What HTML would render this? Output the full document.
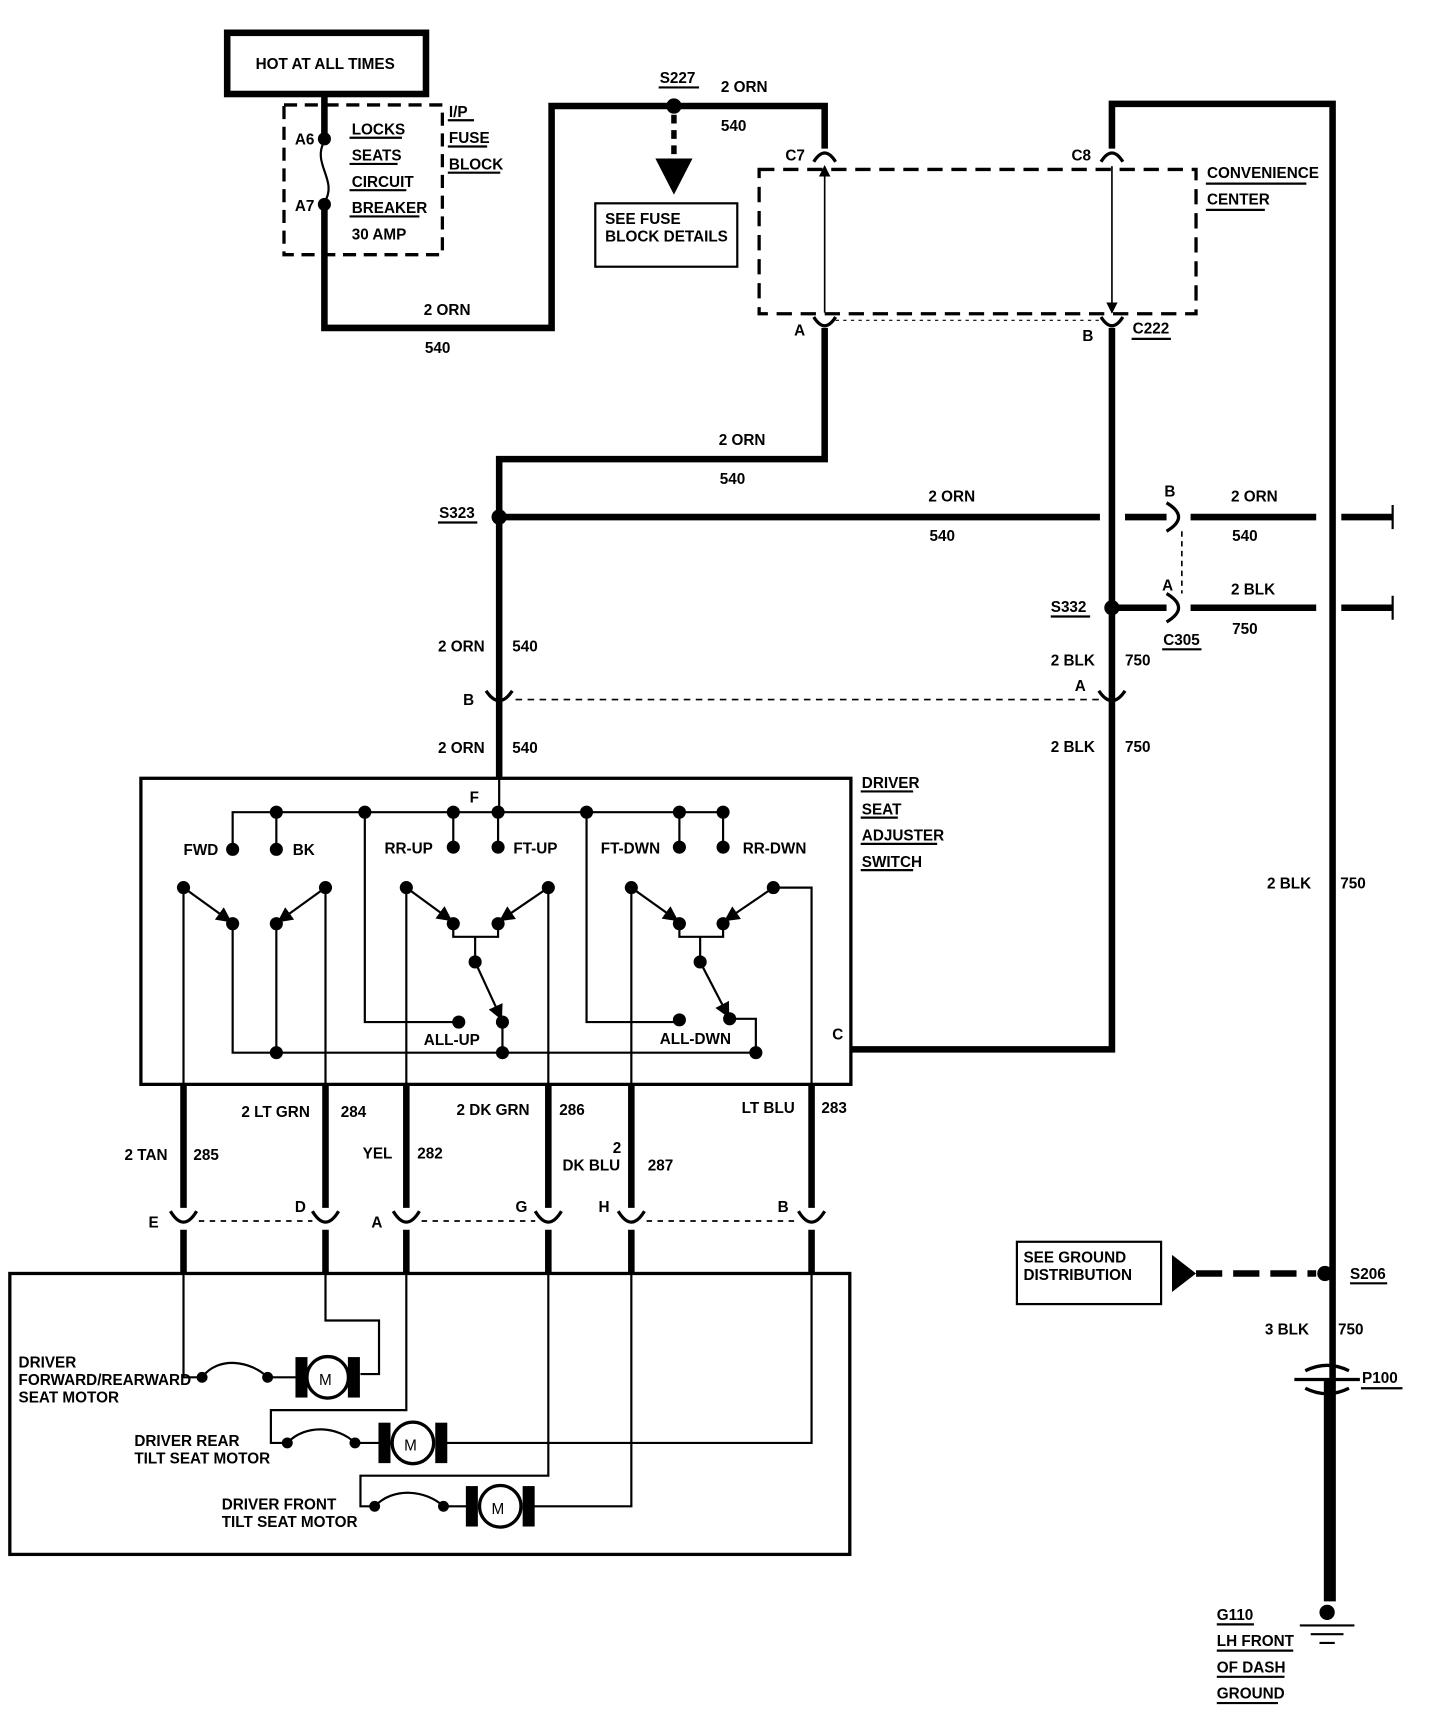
<!DOCTYPE html>
<html><head><meta charset="utf-8"><style>
html,body{margin:0;padding:0;background:#fff;}
svg{display:block;}
text{font-family:"Liberation Sans",sans-serif;font-weight:bold;font-size:14px;fill:#000;}
</style></head><body>
<svg width="1456" height="1714" viewBox="0 0 1333 1568" preserveAspectRatio="none" xmlns="http://www.w3.org/2000/svg">
<defs>
<marker id="ar" viewBox="0 0 10 10" refX="9" refY="5" markerWidth="7" markerHeight="7" orient="auto-start-reverse"><path d="M0,0 L10,5 L0,10 z" fill="#000"/></marker>
</defs>
<g fill="none" stroke="#000">
<rect x="208" y="30" width="182" height="56" stroke-width="6"/>
<rect x="260" y="96" width="145" height="137" stroke-width="3" stroke-dasharray="12,7"/>
<path d="M297,88 V125 M297,189 V300 H505 V97 H755 V136" stroke-width="6"/>
<path d="M297,129 C285,150 310,165 297,185" stroke-width="2"/>
<path d="M617,105 V148" stroke-width="5" stroke-dasharray="8,6"/>
<rect x="545" y="186" width="130" height="58" stroke-width="2"/>
<rect x="695" y="155" width="400" height="132" stroke-width="3" stroke-dasharray="14,8"/>
<path d="M755,300 V420 H457 V712" stroke-width="6"/>
<path d="M1018,136 V95 H1220 V1465" stroke-width="6"/>
<path d="M1018,300 V960 H780" stroke-width="6"/>
<path d="M745,148 Q755,132 765,148 M1008,148 Q1018,132 1028,148 M745,290 Q755,306 765,290 M1008,290 Q1018,306 1028,290" stroke-width="3"/>
<path d="M755,152 V286 M1018,152 V286" stroke-width="1.5" marker-start="url(#ar)" marker-end="url(#ar)"/>
<path d="M765,293 H1008" stroke-width="1" stroke-dasharray="3,4"/>
<path d="M457,473 H1007 M1030,473 H1068 M1090,473 H1205 M1228,473 H1275 M1018,556 H1068 M1090,556 H1205 M1228,556 H1275" stroke-width="6"/>
<path d="M1275,462 V484 M1275,545 V567" stroke-width="2"/>
<path d="M1068,460 Q1090,473 1068,486 M1068,543 Q1090,556 1068,569" stroke-width="3"/>
<path d="M1082,486 V543" stroke-width="1.5" stroke-dasharray="5,4"/>
<path d="M445,632 Q457,650 469,632 M1006,632 Q1018,650 1030,632" stroke-width="3"/>
<path d="M472,640 H1008" stroke-width="1.5" stroke-dasharray="6,5"/>
<rect x="129" y="712" width="650" height="280" stroke-width="3"/>
<g stroke-width="2">
<path d="M213,777 V743 H662 V775 M253,743 V777 M415,743 V775 M456,743 V775 M622,743 V775 M457,712 V743"/>
<path d="M168,812 L211,843" marker-end="url(#ar)"/>
<path d="M298,812 L255,843" marker-end="url(#ar)"/>
<path d="M213,845 V963 H692 M253,845 V963"/>
<path d="M372,812 L413,842" marker-end="url(#ar)"/>
<path d="M502,812 L458,842" marker-end="url(#ar)"/>
<path d="M415,845 V857 H456 V845 M435,857 V880"/>
<path d="M435,880 L459,932" marker-end="url(#ar)"/>
<path d="M334,743 V935 H420 M460,935 V963"/>
<path d="M578,812 L620,842" marker-end="url(#ar)"/>
<path d="M708,812 L664,842" marker-end="url(#ar)"/>
<path d="M622,845 V857 H662 V845 M641,857 V880"/>
<path d="M641,880 L667,930" marker-end="url(#ar)"/>
<path d="M537,743 V935 H622 M668,932 H692 V963 M708,812 H743 V993"/>
<path d="M168,812 V993 M298,812 V993 M372,812 V993 M502,812 V993 M578,812 V993"/>
</g>
<path d="M168,993 V1105 M298,993 V1105 M372,993 V1105 M502,993 V1105 M578,993 V1105 M743,993 V1105 M168,1125 V1165 M298,1125 V1165 M372,1125 V1165 M502,1125 V1165 M578,1125 V1165 M743,1125 V1165" stroke-width="6"/>
<path d="M156,1108 Q168,1128 180,1108 M286,1108 Q298,1128 310,1108 M360,1108 Q372,1128 384,1108 M490,1108 Q502,1128 514,1108 M566,1108 Q578,1128 590,1108 M731,1108 Q743,1128 755,1108" stroke-width="3"/>
<path d="M182,1117 H286 M386,1117 H490 M592,1117 H731" stroke-width="1.5" stroke-dasharray="5,5"/>
<rect x="9" y="1165" width="769" height="257" stroke-width="3"/>
<g stroke-width="2">
<path d="M168,1165 V1260 H185 M298,1165 V1208 H347 V1257 H330"/>
<path d="M185,1260 C200,1240 230,1245 245,1260"/>
<path d="M245,1260 H272"/>
<path d="M372,1165 V1290 H248 V1320 H263 M263,1320 C280,1302 310,1305 325,1320 H348 M408,1320 H743 V1165"/>
<path d="M502,1165 V1350 H330 V1378 H343 M343,1378 C360,1360 390,1363 406,1378 H428 M488,1378 H578 V1165"/>
</g>
<g stroke-width="3">
<rect x="272" y="1243" width="8" height="34" fill="#000"/><rect x="320" y="1243" width="8" height="34" fill="#000"/>
<circle cx="300" cy="1260" r="19" fill="#fff"/>
<rect x="348" y="1303" width="8" height="34" fill="#000"/><rect x="400" y="1303" width="8" height="34" fill="#000"/>
<circle cx="378" cy="1320" r="19" fill="#fff"/>
<rect x="428" y="1361" width="8" height="34" fill="#000"/><rect x="480" y="1361" width="8" height="34" fill="#000"/>
<circle cx="458" cy="1378" r="19" fill="#fff"/>
</g>
<rect x="931" y="1136" width="132" height="57" stroke-width="2"/>
<path d="M1095,1165 H1205" stroke-width="6" stroke-dasharray="24,10"/>
<path d="M1185,1262 H1245" stroke-width="3"/>
<path d="M1195,1254 Q1215,1244 1235,1254 M1195,1270 Q1215,1280 1235,1270" stroke-width="3"/>
<path d="M1215,1262 V1465" stroke-width="6"/>
<path d="M1190,1487 H1240 M1200,1495 H1230 M1208,1503 H1222" stroke-width="2"/>
</g>
<g fill="#000">
<polygon points="600,145 634,145 617,178"/>
<polygon points="1073,1148 1073,1182 1095,1165"/>
<circle cx="1215" cy="1475" r="7"/>
<circle cx="617" cy="97" r="7"/><circle cx="457" cy="473" r="7"/><circle cx="1018" cy="556" r="7"/><circle cx="1213" cy="1165" r="7"/>
<circle cx="297" cy="127" r="6"/><circle cx="297" cy="187" r="6"/>
<circle cx="253" cy="743" r="6"/><circle cx="334" cy="743" r="6"/><circle cx="415" cy="743" r="6"/><circle cx="456" cy="743" r="6"/><circle cx="537" cy="743" r="6"/><circle cx="622" cy="743" r="6"/><circle cx="662" cy="743" r="6"/>
<circle cx="213" cy="777" r="6"/><circle cx="253" cy="777" r="6"/><circle cx="415" cy="775" r="6"/><circle cx="456" cy="775" r="6"/><circle cx="622" cy="775" r="6"/><circle cx="662" cy="775" r="6"/>
<circle cx="168" cy="812" r="6"/><circle cx="298" cy="812" r="6"/><circle cx="372" cy="812" r="6"/><circle cx="502" cy="812" r="6"/><circle cx="578" cy="812" r="6"/><circle cx="708" cy="812" r="6"/>
<circle cx="213" cy="845" r="6"/><circle cx="253" cy="845" r="6"/><circle cx="415" cy="845" r="6"/><circle cx="456" cy="845" r="6"/><circle cx="622" cy="845" r="6"/><circle cx="662" cy="845" r="6"/>
<circle cx="435" cy="880" r="6"/><circle cx="641" cy="880" r="6"/>
<circle cx="420" cy="935" r="6"/><circle cx="460" cy="935" r="6"/><circle cx="622" cy="933" r="6"/><circle cx="668" cy="932" r="6"/>
<circle cx="253" cy="963" r="6"/><circle cx="460" cy="963" r="6"/><circle cx="692" cy="963" r="6"/>
<circle cx="185" cy="1260" r="5"/><circle cx="245" cy="1260" r="5"/><circle cx="263" cy="1320" r="5"/><circle cx="325" cy="1320" r="5"/><circle cx="343" cy="1378" r="5"/><circle cx="406" cy="1378" r="5"/>
</g>
<g stroke="#000" stroke-width="2">
<path d="M320,126 H368 M320,150 H364 M320,174 H372 M320,198 H384 M410,110 H434 M410,134 H446 M410,158 H458 M603,80 H640 M1104,168 H1196 M1104,192 H1158 M1036,310 H1072 M401,478 H437 M962,564 H998 M1064,594 H1100 M788,724 H836 M788,748 H822 M788,772 H858 M788,796 H836 M1236,1174 H1270 M1246,1270 H1284 M1114,1486 H1148 M1114,1510 H1184 M1114,1534 H1176 M1114,1558 H1170"/>
</g>
<text x="234" y="63">HOT AT ALL TIMES</text>
<text x="270" y="132">A6</text><text x="270" y="193">A7</text>
<text x="322" y="123">LOCKS</text><text x="322" y="147">SEATS</text><text x="322" y="171">CIRCUIT</text><text x="322" y="195">BREAKER</text><text x="322" y="219">30 AMP</text>
<text x="411" y="107">I/P</text><text x="411" y="131">FUSE</text><text x="411" y="155">BLOCK</text>
<text x="388" y="288">2 ORN</text><text x="389" y="323">540</text>
<text x="604" y="76">S227</text><text x="660" y="84">2 ORN</text><text x="660" y="120">540</text>
<text x="554" y="205">SEE FUSE</text><text x="554" y="221">BLOCK DETAILS</text>
<text x="719" y="147">C7</text><text x="981" y="147">C8</text><text x="727" y="307">A</text><text x="991" y="312">B</text><text x="1037" y="305">C222</text>
<text x="1105" y="163">CONVENIENCE</text><text x="1105" y="187">CENTER</text>
<text x="658" y="407">2 ORN</text><text x="659" y="443">540</text>
<text x="402" y="474">S323</text><text x="850" y="459">2 ORN</text><text x="851" y="495">540</text>
<text x="1066" y="454">B</text><text x="1127" y="459">2 ORN</text><text x="1128" y="495">540</text>
<text x="962" y="560">S332</text><text x="1064" y="540">A</text><text x="1127" y="544">2 BLK</text><text x="1128" y="580">750</text><text x="1065" y="590">C305</text>
<text x="401" y="596">2 ORN</text><text x="469" y="596">540</text><text x="424" y="645">B</text>
<text x="401" y="689">2 ORN</text><text x="469" y="689">540</text>
<text x="962" y="609">2 BLK</text><text x="1030" y="609">750</text><text x="984" y="632">A</text>
<text x="962" y="688">2 BLK</text><text x="1030" y="688">750</text>
<text x="789" y="721">DRIVER</text><text x="789" y="745">SEAT</text><text x="789" y="769">ADJUSTER</text><text x="789" y="793">SWITCH</text>
<text x="430" y="734">F</text>
<text x="168" y="782">FWD</text><text x="268" y="782">BK</text><text x="352" y="781">RR-UP</text><text x="470" y="781">FT-UP</text><text x="550" y="781">FT-DWN</text><text x="680" y="781">RR-DWN</text>
<text x="388" y="956">ALL-UP</text><text x="604" y="955">ALL-DWN</text><text x="762" y="951">C</text>
<text x="1160" y="813">2 BLK</text><text x="1227" y="813">750</text>
<text x="114" y="1061">2 TAN</text><text x="177" y="1061">285</text>
<text x="221" y="1022">2 LT GRN</text><text x="312" y="1022">284</text>
<text x="332" y="1060">YEL</text><text x="382" y="1060">282</text>
<text x="418" y="1020">2 DK GRN</text><text x="512" y="1020">286</text>
<text x="561" y="1055">2</text><text x="515" y="1071">DK BLU</text><text x="593" y="1071">287</text>
<text x="679" y="1018">LT BLU</text><text x="752" y="1018">283</text>
<text x="136" y="1123">E</text><text x="270" y="1109">D</text><text x="340" y="1123">A</text><text x="472" y="1109">G</text><text x="548" y="1109">H</text><text x="712" y="1109">B</text>
<text x="17" y="1251">DRIVER</text><text x="17" y="1267">FORWARD/REARWARD</text><text x="17" y="1283">SEAT MOTOR</text>
<text x="123" y="1323">DRIVER REAR</text><text x="123" y="1339">TILT SEAT MOTOR</text>
<text x="203" y="1381">DRIVER FRONT</text><text x="203" y="1397">TILT SEAT MOTOR</text>
<text x="292" y="1267" font-size="18" style="font-weight:normal">M</text>
<text x="370" y="1327" font-size="18" style="font-weight:normal">M</text>
<text x="450" y="1385" font-size="18" style="font-weight:normal">M</text>
<text x="937" y="1155">SEE GROUND</text><text x="937" y="1171">DISTRIBUTION</text>
<text x="1236" y="1170">S206</text><text x="1158" y="1221">3 BLK</text><text x="1225" y="1221">750</text><text x="1247" y="1265">P100</text>
<text x="1114" y="1482">G110</text><text x="1114" y="1506">LH FRONT</text><text x="1114" y="1530">OF DASH</text><text x="1114" y="1554">GROUND</text>
</svg>
</body></html>
